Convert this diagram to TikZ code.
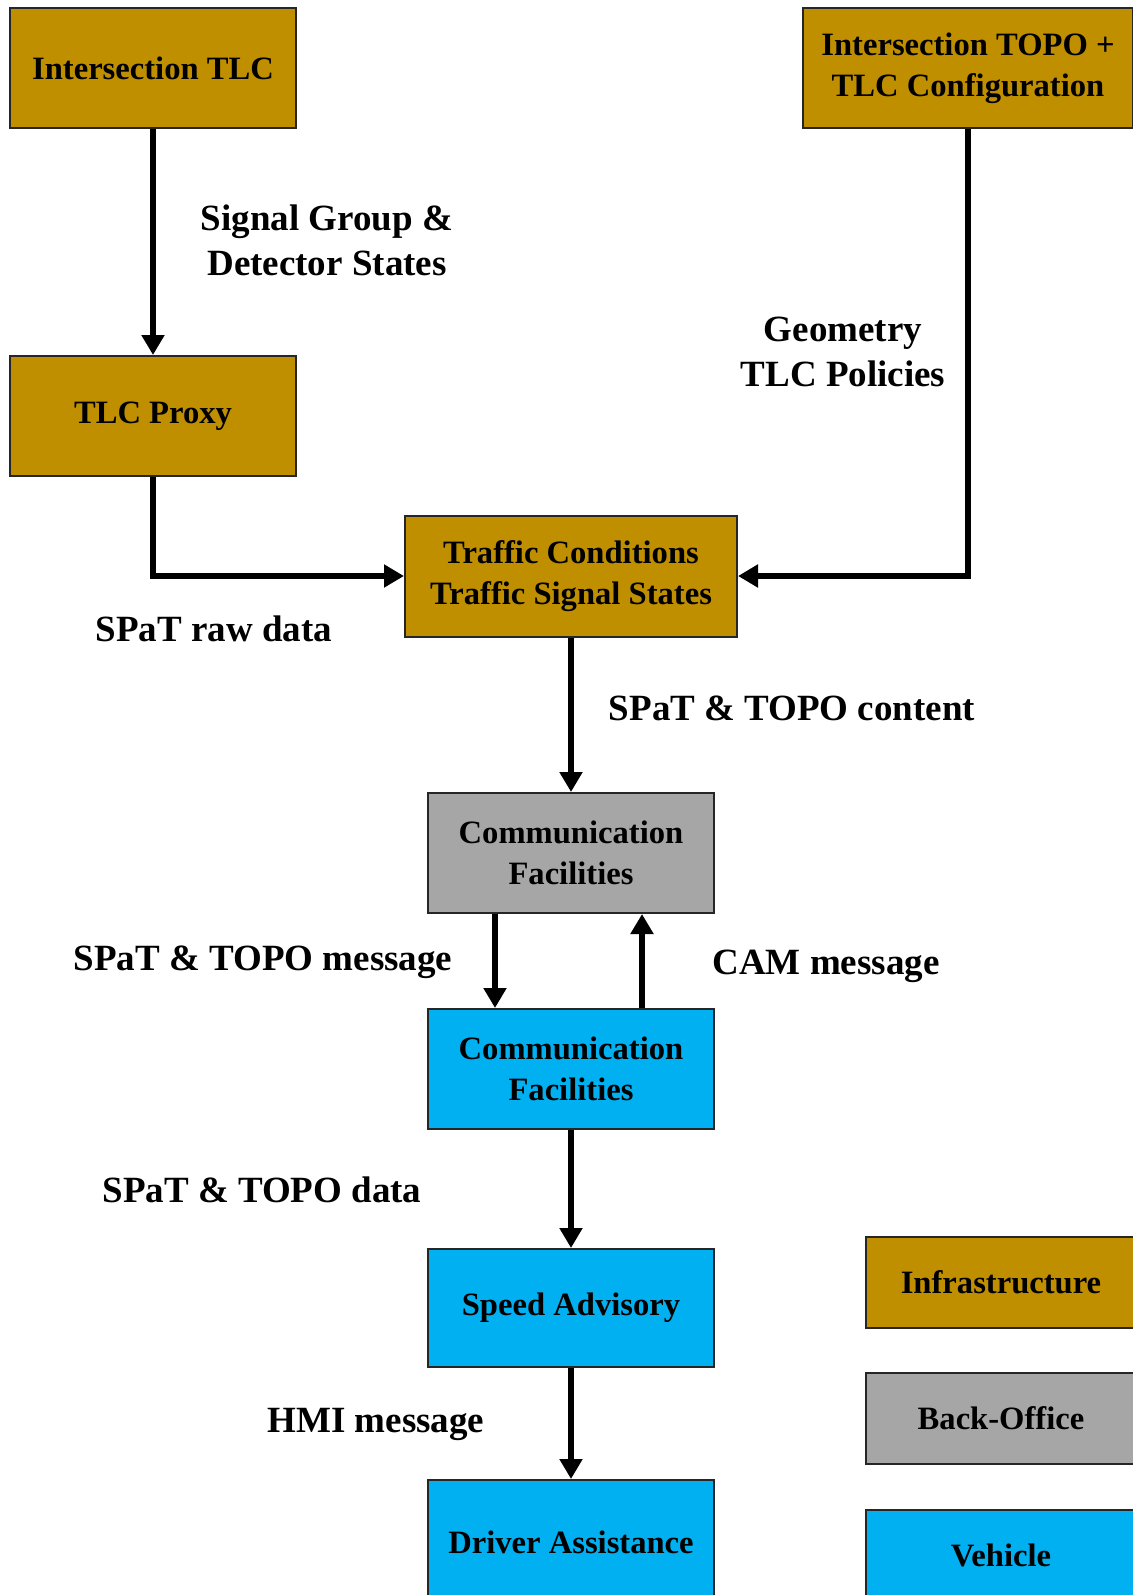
\documentclass[tikz,border=0pt]{standalone}
\usepackage{fontspec}
\setmainfont{Liberation Serif}
\usetikzlibrary{arrows.meta}

\definecolor{infragold}{HTML}{BF8F00}
\definecolor{officegrey}{HTML}{A6A6A6}
\definecolor{vehicleblue}{HTML}{00B0F0}

\begin{document}
\begin{tikzpicture}[x=0.5pt,y=-0.5pt,
  box/.style={draw=black!85, line width=1pt, minimum width=143pt, minimum height=60pt,
    align=center, inner sep=0pt, font=\fontsize{16.3}{20.3}\selectfont\bfseries},
  legendbox/.style={box, minimum width=135pt, minimum height=45.5pt},
  lbl/.style={align=center, inner sep=0pt, font=\fontsize{18.5}{22.5}\selectfont\bfseries},
  flow/.style={line width=2.7pt, -{Triangle[length=10pt,width=11pt]}}]

\useasboundingbox (0,0) rectangle (1132,1595);

% Infraestrutura
\node[box, fill=infragold] (tlc) at (153,68) {Intersection TLC};
\node[box, fill=infragold, minimum width=165pt] (topo) at (968,68) {Intersection TOPO +\\TLC Configuration};
\node[box, fill=infragold] (proxy) at (153,416) {TLC Proxy};
\node[box, fill=infragold, minimum width=166pt, minimum height=60.5pt] (traffic) at (571,576) {Traffic Conditions\\Traffic Signal States};

% Back-office
\node[box, fill=officegrey] (commbo) at (571,853) {Communication\\Facilities};

% Veiculo
\node[box, fill=vehicleblue] (commveh) at (571,1069) {Communication\\Facilities};
\node[box, fill=vehicleblue, minimum height=59pt] (speed) at (571,1308) {Speed Advisory};
\node[box, fill=vehicleblue, minimum height=62pt] (driver) at (571,1542) {Driver Assistance};

% Legenda
\node[legendbox, fill=infragold] (leginfra) at (1001,1282) {Infrastructure};
\node[legendbox, fill=officegrey] (legoffice) at (1001,1418.5) {Back-Office};
\node[legendbox, fill=vehicleblue] (legveh) at (1001,1555) {Vehicle};

% Ligacoes
\draw[flow] (tlc) -- (proxy);
\draw[flow] (proxy.south) |- (traffic.west);
\draw[flow] (topo.south) |- (traffic.east);
\draw[flow] (traffic) -- (commbo);
\draw[flow] ([xshift=-38pt]commbo.south) -- ([xshift=-38pt]commveh.north);
\draw[flow] ([xshift=35.5pt]commveh.north) -- ([xshift=35.5pt]commbo.south);
\draw[flow] (commveh) -- (speed);
\draw[flow] (speed) -- (driver);

% Rotulos
\node[lbl] (lsignal) at (327,240) {Signal Group \&\\Detector States};
\node[lbl] (lgeom) at (843,352) {Geometry\\TLC Policies};
\node[lbl] (lraw) at (214,629) {SPaT raw data};
\node[lbl] (lcontent) at (792,708) {SPaT \& TOPO content};
\node[lbl] (lmsg) at (263,962) {SPaT \& TOPO message};
\node[lbl] (lcam) at (826,966) {CAM message};
\node[lbl] (ldata) at (262,1190) {SPaT \& TOPO data};
\node[lbl] (lhmi) at (376,1424) {HMI message};

\end{tikzpicture}
\end{document}
